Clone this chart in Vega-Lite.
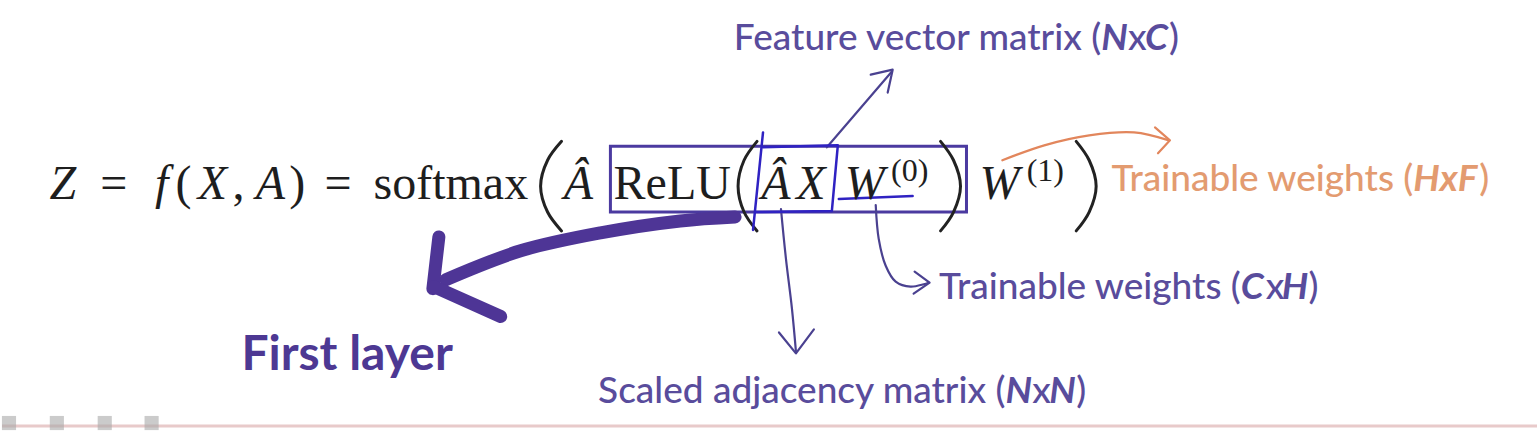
{
  "$schema": "https://vega.github.io/schema/vega-lite/v6.json",
  "width": 1539,
  "height": 431,
  "autosize": {"type": "fit", "contains": "padding"},
  "padding": 0,
  "background": "#ffffff",
  "config": {"view": {"stroke": null}},
  "datasets": {
    "texts": [
      {"kind": "mi", "note": "formula", "x": 61, "y": 200, "text": "Z"},
      {"kind": "mr", "note": "formula", "x": 112, "y": 200, "text": "="},
      {"kind": "mi", "note": "formula", "x": 160, "y": 200, "text": "f"},
      {"kind": "mr", "note": "formula", "x": 182, "y": 200, "text": "("},
      {"kind": "mi", "note": "formula", "x": 211, "y": 200, "text": "X"},
      {"kind": "mr", "note": "formula", "x": 237, "y": 200, "text": ","},
      {"kind": "mi", "note": "formula", "x": 269, "y": 200, "text": "A"},
      {"kind": "mr", "note": "formula", "x": 296, "y": 200, "text": ")"},
      {"kind": "mr", "note": "formula", "x": 337, "y": 200, "text": "="},
      {"kind": "mr", "note": "formula", "x": 450, "y": 200, "text": "softmax"},
      {"kind": "mi", "note": "formula", "x": 578, "y": 200, "text": "Â"},
      {"kind": "mr", "note": "formula", "x": 672, "y": 200, "text": "ReLU"},
      {"kind": "mi", "note": "formula", "x": 776, "y": 200, "text": "Â"},
      {"kind": "mi", "note": "formula", "x": 811, "y": 200, "text": "X"},
      {"kind": "mi", "note": "formula", "x": 865, "y": 200, "text": "W"},
      {"kind": "sup", "note": "formula", "x": 910, "y": 182, "text": "(0)"},
      {"kind": "mi", "note": "formula", "x": 1000, "y": 200, "text": "W"},
      {"kind": "sup", "note": "formula", "x": 1046, "y": 182, "text": "(1)"},

      {"kind": "annR", "note": "features", "x": 1102, "y": 50, "text": "Feature vector matrix ("},
      {"kind": "annBI", "note": "features", "x": 1102, "y": 50, "text": "N"},
      {"kind": "annL", "note": "features", "x": 1129, "y": 50, "text": "x"},
      {"kind": "annBI", "note": "features", "x": 1146, "y": 50, "text": "C"},
      {"kind": "annL", "note": "features", "x": 1170, "y": 50, "text": ")"},

      {"kind": "annR", "note": "weights2", "x": 1415, "y": 192, "text": "Trainable weights ("},
      {"kind": "annBI", "note": "weights2", "x": 1415, "y": 192, "text": "HxF"},
      {"kind": "annL", "note": "weights2", "x": 1481, "y": 192, "text": ")"},

      {"kind": "annR", "note": "weights1", "x": 1242, "y": 300, "text": "Trainable weights ("},
      {"kind": "annBI", "note": "weights1", "x": 1242, "y": 300, "text": "C"},
      {"kind": "annL", "note": "weights1", "x": 1267, "y": 300, "text": "x"},
      {"kind": "annBI", "note": "weights1", "x": 1283, "y": 300, "text": "H"},
      {"kind": "annL", "note": "weights1", "x": 1310, "y": 300, "text": ")"},

      {"kind": "annR", "note": "adjacency", "x": 1006, "y": 405, "text": "Scaled adjacency matrix ("},
      {"kind": "annBI", "note": "adjacency", "x": 1006, "y": 405, "text": "N"},
      {"kind": "annL", "note": "adjacency", "x": 1033, "y": 405, "text": "x"},
      {"kind": "annBI", "note": "adjacency", "x": 1050, "y": 405, "text": "N"},
      {"kind": "annL", "note": "adjacency", "x": 1077, "y": 405, "text": ")"},

      {"kind": "first", "note": "layer", "x": 240, "y": 372, "text": "First layer"}
    ],
    "paths": [
      {"path": "paren_softmax", "i": 0, "x": 561, "y": 142},
      {"path": "paren_softmax", "i": 1, "x": 547, "y": 161},
      {"path": "paren_softmax", "i": 2, "x": 540, "y": 187},
      {"path": "paren_softmax", "i": 3, "x": 547, "y": 213},
      {"path": "paren_softmax", "i": 4, "x": 561, "y": 232},
      {"path": "paren_relu", "i": 0, "x": 757, "y": 142},
      {"path": "paren_relu", "i": 1, "x": 744, "y": 161},
      {"path": "paren_relu", "i": 2, "x": 738, "y": 187},
      {"path": "paren_relu", "i": 3, "x": 744, "y": 213},
      {"path": "paren_relu", "i": 4, "x": 757, "y": 232},
      {"path": "paren_w0", "i": 0, "x": 941, "y": 142},
      {"path": "paren_w0", "i": 1, "x": 954, "y": 161},
      {"path": "paren_w0", "i": 2, "x": 961, "y": 187},
      {"path": "paren_w0", "i": 3, "x": 954, "y": 213},
      {"path": "paren_w0", "i": 4, "x": 941, "y": 232},
      {"path": "paren_w1", "i": 0, "x": 1077, "y": 142},
      {"path": "paren_w1", "i": 1, "x": 1090, "y": 161},
      {"path": "paren_w1", "i": 2, "x": 1097, "y": 187},
      {"path": "paren_w1", "i": 3, "x": 1090, "y": 213},
      {"path": "paren_w1", "i": 4, "x": 1077, "y": 232},
      {"path": "feat_arrow", "i": 0, "x": 827, "y": 148},
      {"path": "feat_arrow", "i": 1, "x": 892, "y": 72},
      {"path": "feat_head", "i": 0, "x": 871, "y": 75},
      {"path": "feat_head", "i": 1, "x": 893, "y": 70},
      {"path": "feat_head", "i": 2, "x": 888, "y": 93},
      {"path": "adj_line", "i": 0, "x": 781, "y": 210},
      {"path": "adj_line", "i": 1, "x": 786, "y": 260},
      {"path": "adj_line", "i": 2, "x": 792, "y": 310},
      {"path": "adj_line", "i": 3, "x": 796, "y": 353},
      {"path": "adj_head", "i": 0, "x": 779, "y": 334},
      {"path": "adj_head", "i": 1, "x": 796, "y": 355},
      {"path": "adj_head", "i": 2, "x": 814, "y": 331},
      {"path": "w0_curve", "i": 0, "x": 876, "y": 206},
      {"path": "w0_curve", "i": 1, "x": 879, "y": 240},
      {"path": "w0_curve", "i": 2, "x": 886, "y": 267},
      {"path": "w0_curve", "i": 3, "x": 896, "y": 283},
      {"path": "w0_curve", "i": 4, "x": 911, "y": 288},
      {"path": "w0_curve", "i": 5, "x": 929, "y": 284},
      {"path": "w0_head", "i": 0, "x": 915, "y": 273},
      {"path": "w0_head", "i": 1, "x": 930, "y": 284},
      {"path": "w0_head", "i": 2, "x": 914, "y": 295},
      {"path": "w0_under", "i": 0, "x": 839, "y": 200},
      {"path": "w0_under", "i": 1, "x": 913, "y": 197},
      {"path": "blue_left", "i": 0, "x": 763, "y": 133},
      {"path": "blue_left", "i": 1, "x": 753, "y": 231},
      {"path": "blue_box", "i": 0, "x": 763, "y": 148},
      {"path": "blue_box", "i": 1, "x": 838, "y": 146},
      {"path": "blue_box", "i": 2, "x": 832, "y": 212},
      {"path": "blue_box", "i": 3, "x": 756, "y": 213},
      {"path": "orange_curve", "i": 0, "x": 1003, "y": 161},
      {"path": "orange_curve", "i": 1, "x": 1045, "y": 146},
      {"path": "orange_curve", "i": 2, "x": 1090, "y": 136},
      {"path": "orange_curve", "i": 3, "x": 1135, "y": 133},
      {"path": "orange_curve", "i": 4, "x": 1170, "y": 141},
      {"path": "orange_head", "i": 0, "x": 1156, "y": 128},
      {"path": "orange_head", "i": 1, "x": 1171, "y": 141},
      {"path": "orange_head", "i": 2, "x": 1159, "y": 154},
      {"path": "thick_shaft", "i": 0, "x": 735, "y": 218},
      {"path": "thick_shaft", "i": 1, "x": 680, "y": 222},
      {"path": "thick_shaft", "i": 2, "x": 600, "y": 234},
      {"path": "thick_shaft", "i": 3, "x": 520, "y": 252},
      {"path": "thick_shaft", "i": 4, "x": 445, "y": 281},
      {"path": "thick_head1", "i": 0, "x": 438, "y": 238},
      {"path": "thick_head1", "i": 1, "x": 432, "y": 290},
      {"path": "thick_head2", "i": 0, "x": 433, "y": 288},
      {"path": "thick_head2", "i": 1, "x": 500, "y": 318}
    ],
    "boxes": [
      {"box": "relu", "x": 610, "x2": 967, "y": 147, "y2": 213}
    ],
    "rules": [
      {"rule": "footer", "x": 0, "x2": 1539, "y": 428}
    ],
    "icons": [
      {"icon": "a", "x": 7, "y": 425},
      {"icon": "b", "x": 55, "y": 425},
      {"icon": "c", "x": 103, "y": 425},
      {"icon": "d", "x": 150, "y": 425}
    ]
  },
  "encoding": {
    "x": {"field": "x", "type": "quantitative", "scale": {"domain": [0, 1539]}, "axis": null},
    "y": {"field": "y", "type": "quantitative", "scale": {"domain": [0, 431], "reverse": true}, "axis": null}
  },
  "layer": [
    {
      "data": {"name": "rules"},
      "mark": {"type": "rule", "color": "#e8caca", "strokeWidth": 3},
      "encoding": {"x2": {"field": "x2"}}
    },
    {
      "data": {"name": "icons"},
      "mark": {"type": "point", "filled": true, "shape": "square", "color": "#a8a8a8", "size": 200, "opacity": 0.6}
    },
    {
      "data": {"name": "boxes"},
      "mark": {"type": "rect", "filled": false, "stroke": "#4b3aa0", "strokeWidth": 3},
      "encoding": {"x2": {"field": "x2"}, "y2": {"field": "y2"}}
    },
    {
      "data": {"name": "paths"},
      "transform": [{"filter": {"field": "path", "oneOf": ["paren_softmax", "paren_relu", "paren_w0", "paren_w1"]}}],
      "mark": {"type": "line", "color": "#222222", "strokeWidth": 3, "strokeCap": "round", "interpolate": "catmull-rom"},
      "encoding": {"detail": {"field": "path"}, "order": {"field": "i", "type": "quantitative"}}
    },
    {
      "data": {"name": "paths"},
      "transform": [{"filter": {"field": "path", "oneOf": ["feat_arrow", "feat_head", "adj_head", "w0_head"]}}],
      "mark": {"type": "line", "color": "#4a4190", "strokeWidth": 2.2, "strokeCap": "round", "strokeJoin": "round"},
      "encoding": {"detail": {"field": "path"}, "order": {"field": "i", "type": "quantitative"}}
    },
    {
      "data": {"name": "paths"},
      "transform": [{"filter": {"field": "path", "oneOf": ["adj_line", "w0_curve"]}}],
      "mark": {"type": "line", "color": "#4a4190", "strokeWidth": 2.2, "strokeCap": "round", "interpolate": "catmull-rom"},
      "encoding": {"detail": {"field": "path"}, "order": {"field": "i", "type": "quantitative"}}
    },
    {
      "data": {"name": "paths"},
      "transform": [{"filter": {"field": "path", "oneOf": ["blue_left", "blue_box", "w0_under"]}}],
      "mark": {"type": "line", "color": "#2f22c2", "strokeWidth": 2.5, "strokeCap": "round", "strokeJoin": "round"},
      "encoding": {"detail": {"field": "path"}, "order": {"field": "i", "type": "quantitative"}}
    },
    {
      "data": {"name": "paths"},
      "transform": [{"filter": {"field": "path", "oneOf": ["orange_curve"]}}],
      "mark": {"type": "line", "color": "#e2865c", "strokeWidth": 2.2, "strokeCap": "round", "interpolate": "catmull-rom"},
      "encoding": {"detail": {"field": "path"}, "order": {"field": "i", "type": "quantitative"}}
    },
    {
      "data": {"name": "paths"},
      "transform": [{"filter": {"field": "path", "oneOf": ["orange_head"]}}],
      "mark": {"type": "line", "color": "#e2865c", "strokeWidth": 2.2, "strokeCap": "round", "strokeJoin": "round"},
      "encoding": {"detail": {"field": "path"}, "order": {"field": "i", "type": "quantitative"}}
    },
    {
      "data": {"name": "paths"},
      "transform": [{"filter": {"field": "path", "oneOf": ["thick_shaft"]}}],
      "mark": {"type": "line", "color": "#4e3596", "strokeWidth": 13, "strokeCap": "round", "interpolate": "catmull-rom"},
      "encoding": {"detail": {"field": "path"}, "order": {"field": "i", "type": "quantitative"}}
    },
    {
      "data": {"name": "paths"},
      "transform": [{"filter": {"field": "path", "oneOf": ["thick_head1", "thick_head2"]}}],
      "mark": {"type": "line", "color": "#4e3596", "strokeWidth": 13, "strokeCap": "round"},
      "encoding": {"detail": {"field": "path"}, "order": {"field": "i", "type": "quantitative"}}
    },
    {
      "data": {"name": "texts"},
      "transform": [{"filter": {"field": "kind", "equal": "mi"}}],
      "mark": {"type": "text", "font": "Liberation Serif", "fontStyle": "italic", "fontSize": 48, "align": "center", "baseline": "alphabetic", "color": "#1e1e1e"},
      "encoding": {"text": {"field": "text"}}
    },
    {
      "data": {"name": "texts"},
      "transform": [{"filter": {"field": "kind", "equal": "mr"}}],
      "mark": {"type": "text", "font": "Liberation Serif", "fontSize": 48, "align": "center", "baseline": "alphabetic", "color": "#1e1e1e"},
      "encoding": {"text": {"field": "text"}}
    },
    {
      "data": {"name": "texts"},
      "transform": [{"filter": {"field": "kind", "equal": "sup"}}],
      "mark": {"type": "text", "font": "Liberation Serif", "fontSize": 32, "align": "center", "baseline": "alphabetic", "color": "#1e1e1e"},
      "encoding": {"text": {"field": "text"}}
    },
    {
      "data": {"name": "texts"},
      "transform": [{"filter": {"field": "kind", "equal": "annR"}}],
      "mark": {"type": "text", "font": "Lato", "fontSize": 37, "fontWeight": 500, "align": "right", "baseline": "alphabetic"},
      "encoding": {
        "text": {"field": "text"},
        "color": {"field": "note", "type": "nominal", "legend": null,
          "scale": {"domain": ["formula", "features", "adjacency", "weights1", "weights2", "layer"],
                    "range": ["#1e1e1e", "#594c9c", "#594c9c", "#594c9c", "#e39b70", "#4d3893"]}}
      }
    },
    {
      "data": {"name": "texts"},
      "transform": [{"filter": {"field": "kind", "equal": "annBI"}}],
      "mark": {"type": "text", "font": "Lato", "fontSize": 37, "fontStyle": "italic", "fontWeight": "bold", "align": "left", "baseline": "alphabetic"},
      "encoding": {
        "text": {"field": "text"},
        "color": {"field": "note", "type": "nominal", "legend": null}
      }
    },
    {
      "data": {"name": "texts"},
      "transform": [{"filter": {"field": "kind", "equal": "annL"}}],
      "mark": {"type": "text", "font": "Lato", "fontSize": 37, "fontWeight": 500, "align": "left", "baseline": "alphabetic"},
      "encoding": {
        "text": {"field": "text"},
        "color": {"field": "note", "type": "nominal", "legend": null}
      }
    },
    {
      "data": {"name": "texts"},
      "transform": [{"filter": {"field": "kind", "equal": "first"}}],
      "mark": {"type": "text", "font": "Lato", "fontSize": 48, "fontWeight": "bold", "align": "left", "baseline": "alphabetic"},
      "encoding": {
        "text": {"field": "text"},
        "color": {"field": "note", "type": "nominal", "legend": null}
      }
    }
  ]
}
